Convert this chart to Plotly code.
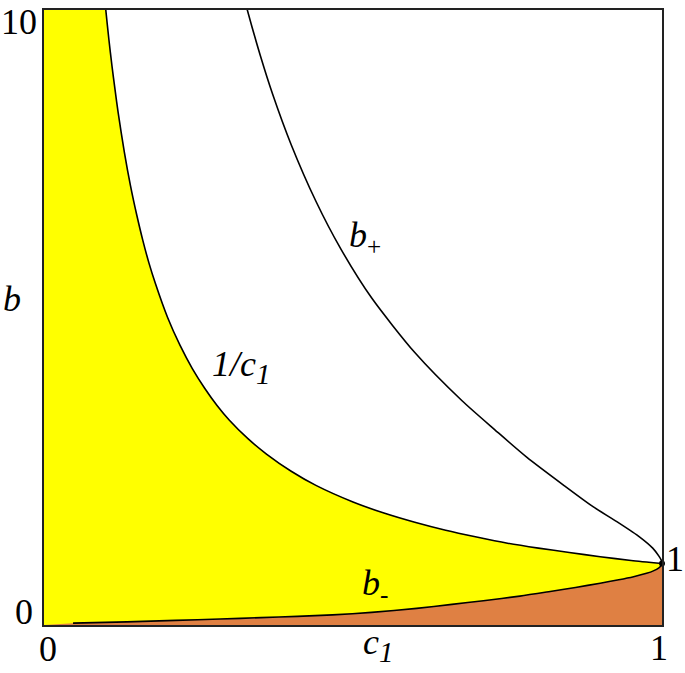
import plotly.graph_objects as go

# values
c_inv = [0.0952, 0.1, 0.105, 0.11, 0.115, 0.12, 0.13, 0.14, 0.15, 0.16, 0.17, 0.18, 0.2, 0.22, 0.24, 0.26,
         0.28, 0.3, 0.33, 0.36, 0.4, 0.44, 0.5, 0.55, 0.6, 0.65, 0.7, 0.75, 0.8, 0.85, 0.9, 0.95, 1.0]
b_inv = [10.5, 10.0, 9.52, 9.09, 8.70, 8.33, 7.69, 7.14, 6.67, 6.25, 5.88, 5.56, 5.0, 4.55, 4.17, 3.85,
         3.57, 3.33, 3.03, 2.78, 2.5, 2.27, 2.0, 1.82, 1.67, 1.54, 1.43, 1.33, 1.25, 1.18, 1.11, 1.05, 1.0]

c_plus = [0.32, 0.329, 0.35, 0.37, 0.40, 0.44, 0.48, 0.53, 0.60, 0.676, 0.73, 0.781, 0.84, 0.889,
          0.93, 0.964, 0.985, 0.995, 0.999, 1.0]
b_plus = [10.35, 10.0, 9.26, 8.63, 7.81, 6.89, 6.12, 5.32, 4.43, 3.65, 3.17, 2.73, 2.28, 1.92,
          1.66, 1.43, 1.25, 1.12, 1.05, 1.0]

c_minus = [0.047, 0.134, 0.213, 0.285, 0.351, 0.41, 0.467, 0.53, 0.603, 0.66, 0.711, 0.77, 0.819,
           0.86, 0.9, 0.93, 0.954, 0.975, 0.986, 0.995, 0.999, 1.0]
b_minus = [0.03, 0.05, 0.076, 0.097, 0.12, 0.14, 0.165, 0.205, 0.27, 0.335, 0.395, 0.47, 0.545,
           0.61, 0.68, 0.735, 0.785, 0.84, 0.88, 0.93, 0.97, 1.0]

YELLOW = "#FFFF00"
ORANGE = "#DF8043"
SERIF = "Liberation Serif"

fig = go.Figure()

# yellow region: left of 1/c1, down to the axis
fig.add_trace(go.Scatter(x=[-0.1] + c_inv + [1.1, 1.1, -0.1], y=[10.5] + b_inv + [1.0, -1, -1],
                         fill="toself", fillcolor=YELLOW, mode="none", hoverinfo="skip"))
# orange region below b-
fig.add_trace(go.Scatter(x=[-0.1, 0.0] + c_minus + [1.1, 1.1, -0.1], y=[0.0, 0.0] + b_minus + [1.0, -1, -1],
                         fill="toself", fillcolor=ORANGE, mode="none", hoverinfo="skip"))

line = dict(color="black", width=1.6, shape="spline", smoothing=0.7)
fig.add_trace(go.Scatter(x=c_inv, y=b_inv, mode="lines", line=line))
fig.add_trace(go.Scatter(x=c_plus, y=b_plus, mode="lines", line=line))
fig.add_trace(go.Scatter(x=c_minus, y=b_minus, mode="lines", line=line))
fig.add_trace(go.Scatter(x=[1], y=[1], mode="markers", cliponaxis=False,
                         marker=dict(color="black", size=6)))

def lab(x, y, text, xa="center", ya="middle"):
    fig.add_annotation(x=x, y=y, xref="paper", yref="paper", text=text, showarrow=False,
                       xanchor=xa, yanchor=ya, font=dict(family=SERIF, size=36, color="black"))

sub1 = "<sub><i><span style='font-size:29px'>1</span></i></sub>"
lab(-0.04, 0.98, "10")
lab(-0.032, 0.021, "0")
lab(0.006, -0.039, "0")
lab(0.995, -0.037, "1")
lab(1.039, 0.107, "1", xa="right")
lab(-0.052, 0.53, "<i>b</i>")
lab(0.54, -0.033, "<i>c</i>" + sub1)
lab(0.52, 0.63, "<i>b</i><sub>+</sub>")
lab(0.318, 0.42, "<i>1/c</i>" + sub1)
lab(0.535, 0.065, "<i>b</i><sub>-</sub>")

axis = dict(showgrid=False, zeroline=False, showticklabels=False, ticks="",
            showline=True, mirror=True, linecolor="#222222", linewidth=1.5)
fig.update_layout(
    width=685, height=673,
    margin=dict(l=44, r=23, t=8, b=48),
    plot_bgcolor="white", paper_bgcolor="white",
    showlegend=False,
    xaxis=dict(range=[0, 1], **axis),
    yaxis=dict(range=[0, 10], **axis),
)

fig.write_html("out.html", config={"displayModeBar": False},
               post_script="document.body.style.margin='0';")
